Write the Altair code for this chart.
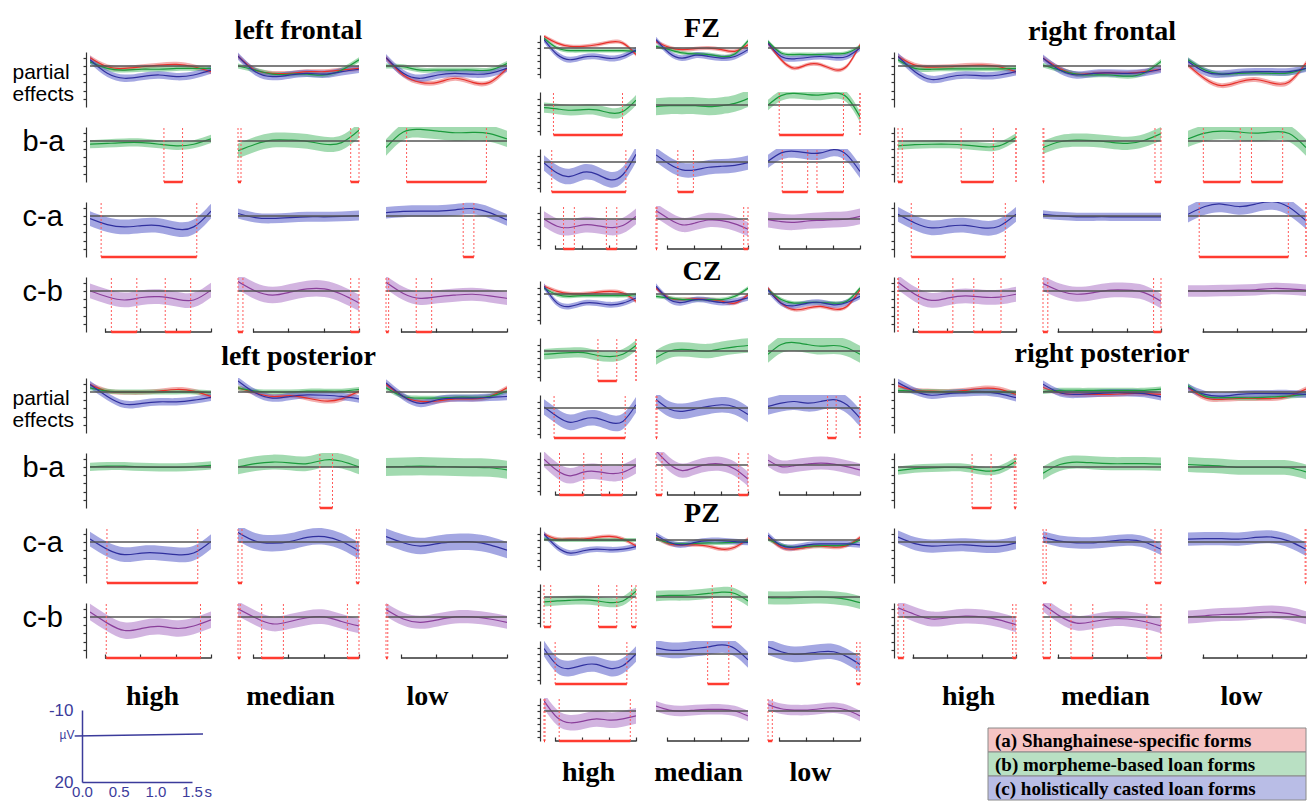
import altair as alt
import pandas as pd

# ---------------- shared axes / categories ----------------
TIME = [-170, 26, 221, 417, 613, 809, 1004, 1200]   # ms, sample points of every curve
X_TICKS = [0, 400, 800, 1200]
Y_TICKS = [-4, -3, -2, -1, 0, 1]
ROWS = ["pe", "b-a", "c-a", "c-b"]
SERIES = ["a", "b", "c"]
LEVELS = ["high", "median", "low"]
ROW_TITLES = {"pe": ["partial", "effects"], "b-a": "b-a", "c-a": "c-a", "c-b": "c-b"}
LEGEND_LABELS = ["(a) Shanghainese-specific forms",
                 "(b) morpheme-based loan forms",
                 "(c) holistically casted loan forms"]
PE_BAND = {"a": 0.3, "b": 0.3, "c": 0.45}

SCALE_T = [-0.1, 1.65]
SCALE_V = [0.8, 0.0]
SCALE_X_TICKS = [0.0, 0.5, 1.0, 1.5]
SCALE_Y_TICKS = [-10, 20]

# ---------------- left frontal ----------------
lf_high = {"a": [1.0, -0.1, -0.3, -0.1, 0.1, 0.2, -0.1, -0.7],
           "b": [0.5, -0.3, -0.5, -0.4, -0.4, -0.3, -0.3, -0.3],
           "c": [0.75, -0.9, -1.5, -1.3, -1.1, -1.3, -1.1, -0.5],
           "b-a": [-0.4, -0.3, -0.2, -0.2, -0.4, -0.6, -0.4, 0.25],
           "c-a": [-0.33, -1.05, -1.33, -1.17, -1.17, -1.6, -1.33, 0.6],
           "c-b": [0.0, -0.7, -1.1, -0.8, -0.7, -1.0, -1.1, 0.1]}
lf_high_band = {"b-a": 0.5, "c-a": 0.9, "c-b": 0.9}
lf_high_sig = {"b-a": [(667, 878)], "c-a": [(-44, 1039)], "c-b": [(72, 360), (682, 970)]}

lf_median = {"a": [1.2, -0.5, -0.9, -0.9, -0.7, -0.7, -0.5, -0.3],
             "b": [0.0, -0.5, -1.0, -1.0, -1.0, -1.1, -0.5, 0.75],
             "c": [1.2, -0.7, -1.3, -1.1, -0.9, -1.0, -0.7, -0.4],
             "b-a": [-1.2, -0.4, 0.1, 0.1, -0.05, -0.4, -0.2, 1.3],
             "c-a": [0.3, -0.2, -0.3, -0.2, -0.1, -0.1, -0.05, 0.05],
             "c-b": [1.15, 0.0, -0.5, -0.15, 0.25, 0.25, -0.4, -1.45]}
lf_median_band = {"b-a": 0.9, "c-a": 0.6, "c-b": 1.0}
lf_median_sig = {"b-a": [(-170, -136), (1106, 1200)], "c-b": [(-170, -114), (1106, 1200)]}

lf_low = {"a": [1.0, -1.1, -2.0, -2.0, -1.5, -2.0, -2.0, -0.3],
          "b": [0.0, -0.1, -0.5, -0.5, -0.5, -0.5, -0.5, 0.3],
          "c": [1.0, -0.9, -1.5, -1.1, -0.9, -1.0, -0.9, -0.3],
          "b-a": [-0.8, 1.1, 1.4, 1.2, 1.0, 1.05, 0.9, 0.25],
          "c-a": [0.4, 0.55, 0.6, 0.6, 0.75, 0.9, 0.4, -0.5],
          "c-b": [1.05, -0.3, -0.9, -0.7, -0.5, -0.4, -0.6, -0.9]}
lf_low_band = {"b-a": 1.0, "c-a": 0.7, "c-b": 0.8}
lf_low_sig = {"b-a": [(63, 967)], "c-a": [(704, 825)], "c-b": [(-170, -140), (172, 347)]}

# ---------------- left posterior ----------------
lp_high = {"a": [0.9, 0.1, -0.05, -0.05, 0.1, 0.3, 0.1, -0.55],
           "b": [0.5, 0.1, 0.0, 0.0, 0.0, 0.0, 0.0, -0.1],
           "c": [0.9, -0.55, -1.5, -1.4, -1.2, -1.2, -1.0, -0.65],
           "b-a": [0.0, 0.1, 0.1, 0.0, -0.05, -0.05, 0.05, 0.2],
           "c-a": [0.35, -0.9, -1.55, -1.35, -1.35, -1.55, -1.35, 0.05],
           "c-b": [0.6, -0.75, -1.65, -1.4, -1.15, -1.4, -1.1, -0.35]}
lp_high_band = {"b-a": 0.5, "c-a": 0.9, "c-b": 1.0}
lp_high_sig = {"c-a": [(22, 1050)], "c-b": [(14, 1081)]}

lp_median = {"a": [0.5, -0.1, -0.55, -0.45, -0.75, -1.1, -0.85, 0.1],
             "b": [0.5, 0.1, 0.0, 0.0, 0.1, 0.1, 0.1, 0.3],
             "c": [1.35, -0.1, -0.75, -0.55, -0.35, -0.4, -0.55, -0.85],
             "b-a": [0.0, 0.4, 0.6, 0.5, 0.4, 0.85, 0.7, 0.0],
             "c-a": [1.15, 0.1, -0.15, 0.05, 0.55, 0.65, 0.05, -1.1],
             "c-b": [1.0, -0.1, -0.85, -0.55, -0.1, 0.0, -0.55, -1.1]}
lp_median_band = {"b-a": 0.9, "c-a": 1.0, "c-b": 0.9}
lp_median_sig = {"b-a": [(757, 900)], "c-a": [(-170, -125), (1170, 1200)],
                 "c-b": [(-170, -145), (98, 344), (1069, 1200)]}

lp_low = {"a": [0.9, -0.55, -1.15, -1.1, -0.85, -0.85, -0.55, 0.5],
          "b": [0.5, -0.55, -0.75, -0.75, -0.65, -0.65, -0.55, 0.1],
          "c": [1.1, -0.55, -1.4, -0.95, -0.75, -0.75, -0.65, -0.55],
          "b-a": [0.0, 0.05, 0.1, 0.05, 0.0, -0.05, -0.1, -0.35],
          "c-a": [0.65, -0.1, -0.5, -0.2, 0.0, 0.0, -0.35, -1.0],
          "c-b": [0.9, -0.25, -0.65, -0.35, 0.0, 0.0, -0.25, -0.65]}
lp_low_band = {"b-a": 1.1, "c-a": 1.0, "c-b": 0.8}
lp_low_sig = {"c-b": [(-170, -150)]}

# ---------------- FZ ----------------
fz_high = {"a": [1.8, 0.75, 0.25, 0.25, 0.5, 0.9, 0.75, -1.0],
           "b": [1.5, 0.0, -0.4, -0.4, -0.4, -0.4, -0.4, -0.5],
           "c": [1.3, -1.0, -1.8, -1.4, -1.3, -1.6, -1.3, -0.3],
           "b-a": [-0.4, -0.6, -0.8, -0.7, -0.75, -1.2, -1.0, 0.75],
           "c-a": [-0.15, -1.7, -2.2, -1.55, -1.85, -2.7, -1.95, 1.2],
           "c-b": [0.0, -1.1, -1.3, -0.9, -1.0, -1.3, -1.0, 0.4]}
fz_high_band = {"b-a": 0.8, "c-a": 1.2, "c-b": 1.2}
fz_high_sig = {"b-a": [(-29, 999)], "c-a": [(-55, 1049)], "c-b": [(121, 282), (759, 914)]}

fz_median = {"a": [1.0, 0.1, -0.25, -0.1, 0.0, -0.25, -0.5, 0.5],
             "b": [0.25, -0.25, -0.75, -0.9, -1.0, -1.3, -0.9, 1.1],
             "c": [1.3, -0.75, -1.55, -1.1, -1.3, -1.55, -1.3, -0.25],
             "b-a": [-0.25, -0.1, -0.1, -0.1, -0.25, -0.1, 0.25, 1.0],
             "c-a": [1.1, -0.3, -1.2, -1.2, -0.8, -0.65, -0.5, -0.1],
             "c-b": [1.3, 0.0, -0.9, -0.6, -0.15, -0.25, -0.75, -1.55]}
fz_median_band = {"b-a": 1.3, "c-a": 1.1, "c-b": 1.1}
fz_median_sig = {"c-a": [(155, 387)], "c-b": [(-170, -155), (1136, 1200)]}

fz_low = {"a": [0.75, -1.8, -3.1, -2.55, -2.55, -3.3, -2.8, 0.5],
          "b": [1.0, -0.75, -1.0, -1.0, -1.0, -0.9, -0.75, 0.25],
          "c": [0.75, -1.3, -1.65, -1.45, -1.3, -1.45, -1.3, 0.0],
          "b-a": [0.0, 1.45, 1.8, 1.6, 1.55, 1.8, 1.2, -1.8],
          "c-a": [0.1, 1.4, 1.65, 1.4, 1.4, 1.9, 1.1, -1.45],
          "c-b": [-0.1, -0.4, -0.5, -0.3, -0.2, -0.1, 0.0, 0.4]}
fz_low_band = {"b-a": 0.8, "c-a": 1.0, "c-b": 1.2}
fz_low_sig = {"b-a": [(-3, 954), (1200, 1200)], "c-a": [(42, 421), (559, 954)]}

# ---------------- CZ ----------------
cz_high = {"a": [1.2, 0.4, 0.05, 0.05, 0.25, 0.4, 0.15, -1.1],
           "b": [0.9, -0.1, -0.35, -0.25, -0.25, -0.25, -0.25, -0.1],
           "c": [1.2, -1.4, -1.9, -1.4, -1.4, -1.65, -1.4, -0.6],
           "b-a": [-0.5, -0.35, -0.25, -0.25, -0.65, -0.85, -0.5, 0.85],
           "c-a": [0.15, -1.3, -2.2, -1.7, -1.55, -2.2, -2.05, 0.5],
           "c-b": [0.9, -0.85, -1.65, -1.1, -1.0, -1.3, -1.1, -0.1]}
cz_high_band = {"b-a": 0.8, "c-a": 1.2, "c-b": 1.2}
cz_high_sig = {"b-a": [(633, 914), (1200, 1200)], "c-a": [(-20, 1039)], "c-b": [(61, 422), (683, 999)]}

cz_median = {"a": [0.9, -0.6, -0.85, -0.75, -0.85, -1.1, -1.4, -0.1],
             "b": [-0.35, -0.6, -0.85, -0.85, -0.85, -0.85, -0.35, 0.9],
             "c": [1.2, -0.85, -1.3, -0.85, -1.0, -1.3, -1.1, -0.6],
             "b-a": [-1.0, 0.0, 0.25, 0.1, 0.0, 0.35, 0.65, 0.85],
             "c-a": [1.3, -0.15, -0.5, -0.15, 0.25, 0.5, 0.15, -1.0],
             "c-b": [2.2, 0.15, -0.85, -0.35, 0.15, 0.15, -0.6, -2.15]}
cz_median_band = {"b-a": 1.1, "c-a": 1.2, "c-b": 1.1}
cz_median_sig = {"c-a": [(-170, -155)], "c-b": [(-170, -81), (1062, 1200)]}

cz_low = {"a": [0.9, -1.4, -2.4, -2.15, -1.9, -2.3, -1.9, 0.65],
          "b": [0.65, -0.85, -1.4, -1.3, -1.3, -1.4, -1.1, 0.9],
          "c": [0.65, -1.4, -1.8, -1.4, -1.3, -1.65, -1.3, -0.35],
          "b-a": [-0.5, 1.0, 1.3, 1.0, 0.75, 0.85, 0.5, -0.5],
          "c-a": [0.25, 0.75, 1.0, 0.75, 1.0, 1.3, 0.5, -1.55],
          "c-b": [0.75, -0.25, -0.1, 0.15, 0.3, 0.15, -0.25, -0.75]}
cz_low_band = {"b-a": 1.3, "c-a": 1.3, "c-b": 1.0}
cz_low_sig = {"c-a": [(717, 845), (1200, 1200)]}

# ---------------- PZ ----------------
pz_high = {"a": [0.9, 0.15, 0.15, 0.15, 0.4, 0.55, 0.15, -0.9],
           "b": [0.15, 0.0, 0.0, 0.0, 0.0, 0.0, 0.0, 0.0],
           "c": [0.9, -1.1, -2.0, -1.65, -1.4, -1.5, -1.4, -1.0],
           "b-a": [-0.75, -0.6, -0.5, -0.45, -0.6, -0.85, -0.6, 0.9],
           "c-a": [0.85, -1.7, -2.2, -1.7, -1.6, -2.2, -1.8, 0.0],
           "c-b": [1.55, -1.0, -1.8, -1.55, -1.2, -1.4, -1.2, -0.75]}
pz_high_band = {"b-a": 0.7, "c-a": 1.2, "c-b": 1.2}
pz_high_sig = {"b-a": [(-170, -70), (643, 914), (1135, 1200)], "c-a": [(-4, 1064)],
               "c-b": [(-170, -155), (56, 1115)]}

pz_median = {"a": [0.4, -0.6, -0.75, -0.75, -0.95, -1.4, -1.1, 0.15],
             "b": [0.25, -0.45, -0.6, -0.5, -0.45, -0.45, -0.35, -0.25],
             "c": [0.75, -0.35, -0.75, -0.35, -0.1, -0.1, -0.25, -0.35],
             "b-a": [0.15, 0.25, 0.25, 0.35, 0.55, 0.75, 0.55, -0.6],
             "c-a": [0.95, 0.6, 0.6, 0.85, 1.1, 1.4, 0.85, -0.9],
             "c-b": [0.75, 0.15, 0.0, 0.15, 0.25, 0.25, 0.0, -0.75]}
pz_median_band = {"b-a": 0.8, "c-a": 1.2, "c-b": 0.8}
pz_median_sig = {"b-a": [(668, 953)], "c-a": [(599, 914)]}

pz_low = {"a": [0.4, -1.1, -1.4, -1.1, -0.95, -1.1, -0.85, 0.4],
          "b": [0.15, -0.75, -1.1, -0.95, -0.85, -0.85, -0.75, 0.0],
          "c": [0.75, -0.85, -1.1, -0.75, -0.6, -0.6, -0.6, -0.75],
          "b-a": [-0.1, -0.15, -0.1, -0.05, 0.0, -0.1, -0.35, -0.85],
          "c-a": [1.1, 0.35, -0.05, 0.1, 0.35, 0.35, -0.4, -1.6],
          "c-b": [1.0, 0.35, 0.15, 0.15, 0.35, 0.5, 0.15, -0.75]}
pz_low_band = {"b-a": 1.0, "c-a": 1.2, "c-b": 0.8}
pz_low_sig = {"c-a": [(1151, 1200)], "c-b": [(-170, -106)]}

# ---------------- right frontal ----------------
rf_high = {"a": [1.15, 0.1, -0.15, -0.1, 0.05, 0.1, -0.1, -0.7],
           "b": [0.75, -0.3, -0.4, -0.35, -0.35, -0.35, -0.35, -0.3],
           "c": [1.15, -0.7, -1.65, -1.35, -1.1, -1.2, -1.1, -0.7],
           "b-a": [-0.6, -0.45, -0.4, -0.4, -0.5, -0.7, -0.6, 0.45],
           "c-a": [0.2, -0.85, -1.45, -1.25, -1.15, -1.45, -1.25, 0.2],
           "c-b": [1.05, -0.4, -1.15, -0.85, -0.6, -0.75, -0.75, -0.4]}
rf_high_band = {"b-a": 0.5, "c-a": 0.9, "c-b": 0.9}
rf_high_sig = {"b-a": [(-170, -120), (563, 937), (1200, 1200)], "c-a": [(-16, 1076)],
               "c-b": [(-170, -170), (69, 467), (710, 1026)]}

rf_median = {"a": [0.95, -0.3, -1.0, -0.9, -0.85, -0.9, -0.7, -0.4],
             "b": [0.1, -0.5, -1.0, -1.1, -1.1, -1.25, -0.85, 0.55],
             "c": [0.95, -0.5, -1.1, -0.9, -0.85, -0.9, -0.8, -0.4],
             "b-a": [-0.8, -0.1, 0.1, 0.05, -0.15, -0.3, 0.05, 0.9],
             "c-a": [0.2, 0.0, -0.1, -0.1, -0.1, -0.1, -0.1, -0.1],
             "c-b": [0.9, 0.0, -0.4, -0.2, 0.1, 0.1, -0.2, -1.25]}
rf_median_band = {"b-a": 0.8, "c-a": 0.5, "c-b": 0.9}
rf_median_sig = {"b-a": [(-170, -160), (1130, 1200)], "c-b": [(-170, -114), (1114, 1200)]}

rf_low = {"a": [0.1, -1.55, -2.4, -1.95, -1.65, -2.1, -1.95, 0.35],
          "b": [0.75, -0.5, -1.0, -0.9, -0.85, -0.9, -0.85, -0.3],
          "c": [0.55, -0.7, -1.0, -0.8, -0.7, -0.7, -0.7, -0.3],
          "b-a": [0.25, 0.95, 1.2, 1.1, 0.95, 1.1, 0.9, -0.8],
          "c-a": [0.2, 1.15, 1.45, 1.15, 1.45, 1.75, 1.05, -0.6],
          "c-b": [0.0, 0.0, 0.05, 0.1, 0.15, 0.3, 0.25, 0.1]}
rf_low_band = {"b-a": 1.0, "c-a": 1.0, "c-b": 0.7}
rf_low_sig = {"b-a": [(8, 437), (567, 929)], "c-a": [(-40, 995), (1200, 1200)]}

# ---------------- right posterior ----------------
rp_high = {"a": [0.75, 0.2, 0.1, 0.05, 0.2, 0.45, 0.35, -0.3],
           "b": [0.2, 0.1, 0.05, 0.0, 0.05, 0.05, 0.0, -0.1],
           "c": [1.15, 0.1, -0.4, -0.2, -0.1, 0.0, -0.2, -0.7],
           "b-a": [-0.45, -0.2, -0.1, -0.05, -0.1, -0.45, -0.35, 0.7],
           "c-a": [0.6, -0.2, -0.5, -0.4, -0.35, -0.5, -0.5, -0.1],
           "c-b": [1.1, 0.3, -0.25, -0.1, 0.1, 0.0, -0.35, -0.95]}
rp_high_band = {"b-a": 0.5, "c-a": 0.8, "c-b": 0.9}
rp_high_sig = {"b-a": [(690, 911), (1181, 1200)], "c-b": [(-170, -104), (1162, 1200)]}

rp_median = {"a": [0.55, -0.1, -0.3, -0.3, -0.3, -0.2, -0.2, -0.3],
             "b": [0.05, 0.2, 0.2, 0.2, 0.2, 0.2, 0.2, 0.35],
             "c": [0.95, -0.1, -0.3, -0.2, -0.1, -0.1, -0.2, -0.6],
             "b-a": [-0.75, 0.3, 0.6, 0.5, 0.4, 0.4, 0.4, 0.35],
             "c-a": [0.6, 0.1, -0.1, -0.1, 0.1, 0.25, 0.0, -0.9],
             "c-b": [1.55, 0.1, -0.75, -0.55, -0.25, -0.25, -0.55, -1.1]}
rp_median_band = {"b-a": 0.8, "c-a": 0.7, "c-b": 0.9}
rp_median_sig = {"c-a": [(-170, -133), (1130, 1200)],
                 "c-b": [(-170, -84), (155, 408), (1036, 1200)]}

rp_low = {"a": [0.55, -0.7, -0.9, -0.8, -0.8, -0.8, -0.5, 0.35],
          "b": [0.75, -0.5, -0.7, -0.7, -0.7, -0.6, -0.5, -0.3],
          "c": [0.55, -0.3, -0.5, -0.3, -0.2, -0.2, -0.2, -0.3],
          "b-a": [0.3, 0.2, 0.1, -0.05, -0.05, -0.05, -0.1, -0.6],
          "c-a": [0.35, 0.4, 0.4, 0.35, 0.55, 0.6, 0.1, -0.9],
          "c-b": [0.0, 0.15, 0.3, 0.35, 0.5, 0.6, 0.4, -0.1]}
rp_low_band = {"b-a": 0.9, "c-a": 0.8, "c-b": 0.8}
rp_low_sig = {"c-a": [(1190, 1200)]}

# ---------------- styling ----------------
KEYS = ["a", "b", "c", "b-a", "c-a", "c-b"]
LINE_COLORS = ["#e8302a", "#1b9a3c", "#30309e", "#1b9a3c", "#30309e", "#8a3f9a"]
BAND_COLORS = ["#ea6a6a", "#55bb70", "#5a5ecb", "#55bb70", "#5a5ecb", "#ad76c6"]
LEGEND_FILLS = ["#f5c4c4", "#b9e0c3", "#b9bde6"]
AX = "#333333"
ZERO = "#555555"
SIG = "#ff3b30"
SIG_D = "#ff5a5a"
SB = "#3b3b9b"
SERIF = "Liberation Serif"
SANS = "Liberation Sans"

SIDE = {"h": 55, "ydom": [-5.0, 1.7], "row_gap": 20, "col_gap": 27, "xl_y": 50}
MID = {"h": 43, "ydom": [-4.6, 2.0], "row_gap": 14, "col_gap": 20, "xl_y": 43}
LW, RW, MW = 121, 118, 92


def panel(vals, band, sig, row, width, geom, first, bottom, xlabel, xlabel_x, row_title):
    ydom = geom["ydom"]
    keys = SERIES if row == "pe" else [row]
    recs = []
    for k in keys:
        hw = PE_BAND[k] if row == "pe" else band[row]
        for t, v in zip(TIME, vals[k]):
            recs.append(dict(t=t, v=v, lo=v - hw, hi=v + hw, s=k))
    df = pd.DataFrame(recs)
    xs = alt.Scale(domain=[TIME[0], TIME[-1]], nice=False, zero=False)
    ys = alt.Scale(domain=ydom, nice=False, zero=False)

    yaxis = None
    if first:
        kw = dict(values=Y_TICKS, labels=False, tickSize=3, tickWidth=1.2, tickColor=AX,
                  domainColor=AX, domainWidth=1.2, offset=4, grid=False)
        if row_title is not None:
            big = isinstance(row_title, str)
            kw.update(title=row_title, titleAngle=0, titleAlign="left", titleBaseline="middle",
                      titleFont=SANS, titleFontWeight="normal", titleColor="black",
                      titleFontSize=29 if big else 21, titleLineHeight=22,
                      titleX=-64 if big else -74, titleY=14 if big else 20)
        else:
            kw.update(title=None)
        yaxis = alt.Axis(**kw)
    xaxis = None
    if bottom:
        # ticks point up from the axis line, as in the original figure
        kw = dict(values=X_TICKS, labels=False, tickSize=4, tickWidth=1.2, tickColor=AX,
                  domain=False, grid=False, offset=-4)
        if xlabel:
            kw.update(title=xlabel, titleFont=SERIF, titleFontSize=28, titleFontWeight="bold",
                      titleColor="black", titleAlign="center", titleBaseline="alphabetic",
                      titleX=xlabel_x, titleY=geom["xl_y"])
        else:
            kw.update(title=None)
        xaxis = alt.Axis(**kw)

    base = alt.Chart(df)
    layers = [
        base.mark_area(opacity=0.55, interpolate="natural", clip=True).encode(
            x=alt.X("t:Q", scale=xs, axis=xaxis),
            y=alt.Y("lo:Q", scale=ys, axis=yaxis),
            y2="hi:Q",
            fill=alt.Fill("s:N", scale=alt.Scale(domain=KEYS, range=BAND_COLORS), legend=None),
        ),
        base.mark_line(strokeWidth=1.2, interpolate="natural", clip=True).encode(
            x=alt.X("t:Q", axis=xaxis),
            y=alt.Y("v:Q", axis=yaxis),
            stroke=alt.Stroke("s:N", scale=alt.Scale(domain=KEYS, range=LINE_COLORS), legend=None),
        ),
        alt.Chart(pd.DataFrame({"z": [0]})).mark_rule(color=ZERO, strokeWidth=1.6).encode(
            y=alt.Y("z:Q", axis=yaxis)),
    ]
    if bottom:
        ax_df = pd.DataFrame({"x1": [X_TICKS[0]], "x2": [X_TICKS[-1]], "yb": [ydom[0]]})
        layers.append(alt.Chart(ax_df).mark_rule(color=AX, strokeWidth=1.3).encode(
            x=alt.X("x1:Q", axis=xaxis), x2="x2:Q", y=alt.Y("yb:Q", axis=yaxis)))
    ivals = sig.get(row, [])
    if ivals:
        seg = pd.DataFrame({"s0": [a for a, b in ivals], "s1": [b for a, b in ivals],
                            "yb": [ydom[0]] * len(ivals)})
        edges = pd.DataFrame({"t": [e for iv in ivals for e in iv],
                              "yb": [ydom[0]] * (2 * len(ivals)),
                              "yt": [ydom[1]] * (2 * len(ivals))})
        layers.append(alt.Chart(edges).mark_rule(color=SIG_D, strokeWidth=1, strokeDash=[2, 2]).encode(
            x=alt.X("t:Q", axis=xaxis), y=alt.Y("yb:Q", axis=yaxis), y2="yt:Q"))
        layers.append(alt.Chart(seg).mark_rule(color=SIG, strokeWidth=2.5).encode(
            x=alt.X("s0:Q", axis=xaxis), x2="s1:Q", y=alt.Y("yb:Q", axis=yaxis)))
    return alt.layer(*layers).properties(width=width, height=geom["h"])


def group_cells(cols, bands, sigs, geom, width, row_titles=False, xlabel_x=None):
    cells = []
    for ri, row in enumerate(ROWS):
        bottom = ri == len(ROWS) - 1
        for ci in range(3):
            cells.append(panel(cols[ci], bands[ci], sigs[ci], row, width, geom,
                               first=(ci == 0), bottom=bottom,
                               xlabel=LEVELS[ci] if (bottom and xlabel_x) else None,
                               xlabel_x=xlabel_x[ci] if xlabel_x else None,
                               row_title=ROW_TITLES[row] if row_titles else None))
    return cells


def spacer(w, h, text=None, ty=0):
    if text:
        return alt.Chart(pd.DataFrame({"label": [text]})).mark_text(
            font=SERIF, fontSize=28, fontWeight="bold", color="black", align="center",
            baseline="alphabetic").encode(
            x=alt.value(w / 2), y=alt.value(ty), text="label:N").properties(width=w, height=h)
    return alt.Chart(pd.DataFrame({"z": [0]})).mark_point(opacity=0).encode(
        x=alt.value(0), y=alt.value(0)).properties(width=w, height=h)


def spacer_row(w, h, text=None, ty=0):
    return [spacer(w, h), spacer(w, h, text, ty), spacer(w, h)]


lf = group_cells([lf_high, lf_median, lf_low], [lf_high_band, lf_median_band, lf_low_band],
                 [lf_high_sig, lf_median_sig, lf_low_sig], SIDE, LW, row_titles=True)
lp = group_cells([lp_high, lp_median, lp_low], [lp_high_band, lp_median_band, lp_low_band],
                 [lp_high_sig, lp_median_sig, lp_low_sig], SIDE, LW, row_titles=True,
                 xlabel_x=[62, 52, 41])
fz = group_cells([fz_high, fz_median, fz_low], [fz_high_band, fz_median_band, fz_low_band],
                 [fz_high_sig, fz_median_sig, fz_low_sig], MID, MW)
cz = group_cells([cz_high, cz_median, cz_low], [cz_high_band, cz_median_band, cz_low_band],
                 [cz_high_sig, cz_median_sig, cz_low_sig], MID, MW)
pz = group_cells([pz_high, pz_median, pz_low], [pz_high_band, pz_median_band, pz_low_band],
                 [pz_high_sig, pz_median_sig, pz_low_sig], MID, MW, xlabel_x=[44, 42, 42])
rf = group_cells([rf_high, rf_median, rf_low], [rf_high_band, rf_median_band, rf_low_band],
                 [rf_high_sig, rf_median_sig, rf_low_sig], SIDE, RW)
rp = group_cells([rp_high, rp_median, rp_low], [rp_high_band, rp_median_band, rp_low_band],
                 [rp_high_sig, rp_median_sig, rp_low_sig], SIDE, RW, xlabel_x=[70, 62, 53])

# ---------------- scale bar ----------------
scalebar = alt.Chart(pd.DataFrame({"t": SCALE_T, "v": SCALE_V})).mark_line(
    color=SB, strokeWidth=1.5, clip=False).encode(
    x=alt.X("t:Q", scale=alt.Scale(domain=[SCALE_X_TICKS[0], SCALE_X_TICKS[-1]], range=[-8, 102],
                                   nice=False, zero=False),
            axis=alt.Axis(values=SCALE_X_TICKS, format=".1f", ticks=False, grid=False, domainColor=SB,
                          domainWidth=1.5, labelColor=SB, labelFontSize=15, labelFont=SANS,
                          labelFlush=False, labelPadding=2, title="s", titleX=114, titleY=2,
                          titleAlign="left", titleBaseline="top", titleFont=SANS, titleFontSize=15,
                          titleFontWeight="normal", titleColor=SB)),
    y=alt.Y("v:Q", scale=alt.Scale(domain=[SCALE_Y_TICKS[0], SCALE_Y_TICKS[-1]], reverse=True,
                                   nice=False, zero=False),
            axis=alt.Axis(values=SCALE_Y_TICKS, labelExpr="'' + datum.value", ticks=False, grid=False,
                          domainColor=SB, domainWidth=1.5, offset=8,
                          labelColor=SB, labelFontSize=17, labelFont=SANS, labelPadding=9,
                          labelFlushOffset=2,
                          title="µV", titleAngle=0, titleX=-8, titleY=24, titleAlign="right",
                          titleBaseline="middle", titleFont=SANS, titleFontSize=12,
                          titleFontWeight="normal", titleColor=SB)),
).properties(width=110, height=72)

# ---------------- legend box ----------------
leg_df = pd.DataFrame({"label": LEGEND_LABELS})
leg_df["i"] = range(len(LEGEND_LABELS))
leg_base = alt.Chart(leg_df).transform_calculate(i2="datum.i + 1", ym="datum.i + 0.5", x0="0", x1="1")
leg_y = alt.Scale(domain=[0, len(LEGEND_LABELS)], reverse=True, nice=False, zero=False)
legend = alt.layer(
    leg_base.mark_rect(stroke="#8a8a8a", strokeWidth=1).encode(
        x=alt.X("x0:Q", scale=alt.Scale(domain=[0, 1]), axis=None), x2="x1:Q",
        y=alt.Y("i:Q", scale=leg_y, axis=None), y2="i2:Q",
        color=alt.Color("label:N", scale=alt.Scale(domain=LEGEND_LABELS, range=LEGEND_FILLS), legend=None)),
    leg_base.mark_text(align="left", baseline="middle", dx=7, dy=1, font=SERIF, fontSize=19,
                       fontWeight="bold", color="black").encode(
        x=alt.X("x0:Q", axis=None), y=alt.Y("ym:Q", axis=None), text="label:N"),
).properties(width=318, height=72)

GRID = dict(columns=3, bounds="flush", align="each")

left_grid = alt.concat(
    *(spacer_row(LW, 12, "left frontal", 19) + lf + spacer_row(LW, 6, "left posterior", 13) + lp
      + spacer_row(LW, 12) + [scalebar, spacer(LW, 1), spacer(LW, 1)]),
    spacing={"row": 20, "column": 27}, **GRID)
mid_grid = alt.concat(
    *(spacer_row(MW, 1, "FZ", 17) + fz + spacer_row(MW, 4, "CZ", 17) + cz
      + spacer_row(MW, 4, "PZ", 13) + pz),
    spacing={"row": 14, "column": 20}, **GRID)
right_grid = alt.concat(
    *(spacer_row(RW, 12, "right frontal", 20) + rf + spacer_row(RW, 6, "right posterior", 10) + rp),
    spacing={"row": 20, "column": 27}, **GRID)
right_col = alt.vconcat(
    right_grid,
    alt.hconcat(spacer(62, 1), legend, spacing=28, bounds="flush"),
    spacing=15)

chart = alt.hconcat(left_grid, mid_grid, right_col, spacing=28).properties(
    padding={"left": 4, "top": 7, "right": 0, "bottom": 0}
).configure_view(strokeWidth=0).configure_axis(grid=False)

chart.save("out.html", embed_options={"renderer": "svg", "actions": False})
